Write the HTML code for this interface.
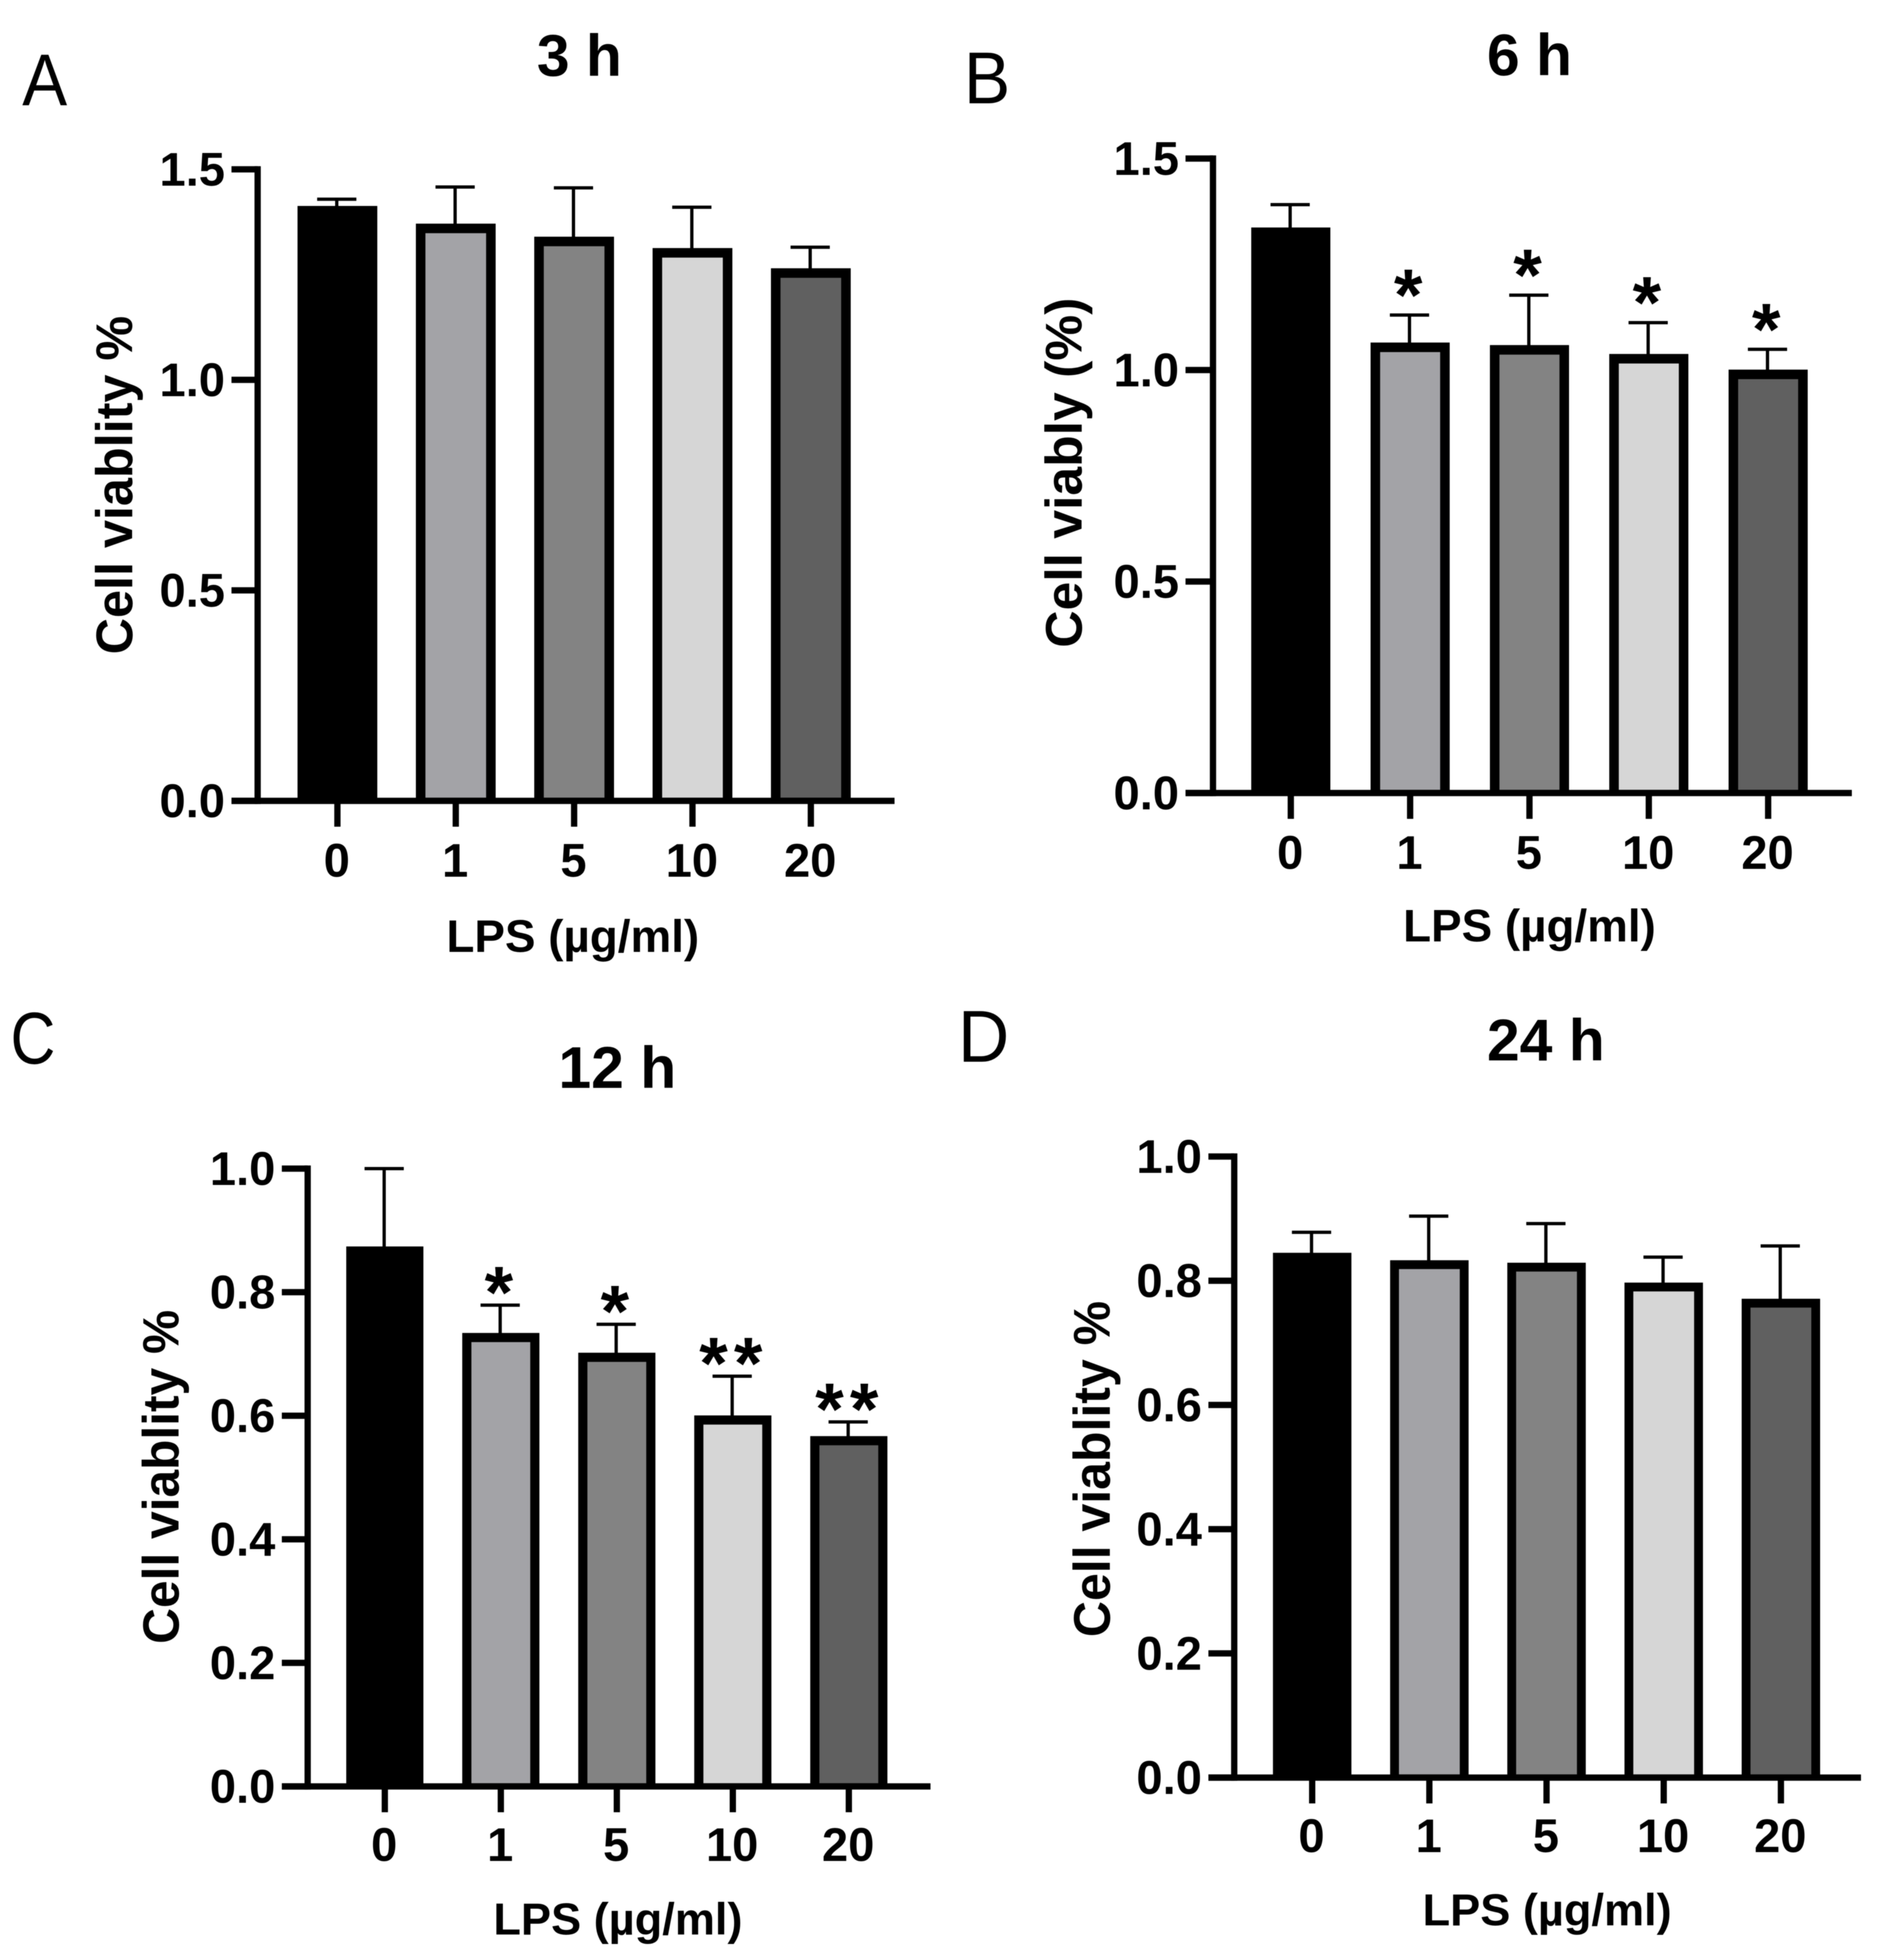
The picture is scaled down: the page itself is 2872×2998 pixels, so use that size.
<!DOCTYPE html>
<html>
<head>
<meta charset="utf-8">
<title>Cell viability after LPS treatment</title>
<style>
html,body{margin:0;padding:0;background:#fff;width:2872px;height:2998px;overflow:hidden}
svg{display:block;filter:blur(0.6px)}
text{font-family:"Liberation Sans",sans-serif;fill:#000}
.letter{font-size:112px;font-weight:400}
.ttl{font-size:90px;font-weight:700;text-anchor:middle}
.xt{font-size:70px;font-weight:700;text-anchor:middle}
.yt{font-size:77px;font-weight:700;text-anchor:middle}
</style>
</head>
<body>
<svg id="fig" xmlns="http://www.w3.org/2000/svg" width="2872" height="2998" viewBox="0 0 2872 2998">
  <rect x="0" y="0" width="2872" height="2998" fill="#fff"/>
  <g id="panel-a">
    <text class="letter" transform="translate(34,161) scale(0.92,1)">A</text>
    <text class="ttl" x="886" y="116">3 h</text>
    <text class="xt" x="876" y="1456">LPS (µg/ml)</text>
    <text class="yt" transform="translate(202,742) rotate(-90) scale(1,1.03)">Cell viablity %</text>
  </g>
  <g id="panel-b">
    <text class="letter" transform="translate(1474,158) scale(0.95,1)">B</text>
    <text class="ttl" x="2339" y="115">6 h</text>
    <text class="xt" x="2339" y="1440">LPS (µg/ml)</text>
    <text class="yt" transform="translate(1654,723) rotate(-90)" style="font-size:79px">Cell viably (%)</text>
  </g>
  <g id="panel-c">
    <text class="letter" transform="translate(16,1627) scale(0.85,1)">C</text>
    <text class="ttl" x="944" y="1664">12 h</text>
    <text class="xt" x="945" y="2959" style="font-size:69px">LPS (µg/ml)</text>
    <text class="yt" transform="translate(273,2259) rotate(-90) scale(1,1.03)" style="font-size:76px">Cell viablity %</text>
  </g>
  <g id="panel-d">
    <text class="letter" transform="translate(1465,1624) scale(0.97,1)">D</text>
    <text class="ttl" x="2364" y="1622">24 h</text>
    <text class="xt" x="2366" y="2945" style="font-size:69px">LPS (µg/ml)</text>
    <text class="yt" transform="translate(1697,2247) rotate(-90) scale(1,1.03)" style="font-size:76.5px">Cell viablity %</text>
  </g>
</svg>
<script>
// ---- data ----
const categories = ['0', '1', '5', '10', '20'];
const barColors = ['#000000', '#a3a3a7', '#838383', '#d6d6d6', '#606060'];

const yTicksA = [0, 0.5, 1.0, 1.5];
const valuesA = [1.413, 1.371, 1.340, 1.313, 1.265];
const errorTopsA = [1.429, 1.458, 1.456, 1.410, 1.315];
const starsA = ['', '', '', '', ''];

const yTicksB = [0, 0.5, 1.0, 1.5];
const valuesB = [1.337, 1.065, 1.059, 1.038, 1.001];
const errorTopsB = [1.391, 1.130, 1.177, 1.112, 1.049];
const starsB = ['', '*', '*', '*', '*'];

const yTicksC = [0, 0.2, 0.4, 0.6, 0.8, 1.0];
const valuesC = [0.874, 0.734, 0.702, 0.6005, 0.567];
const errorTopsC = [1.000, 0.779, 0.748, 0.664, 0.590];
const starsC = ['', '*', '*', '**', '**'];

const yTicksD = [0, 0.2, 0.4, 0.6, 0.8, 1.0];
const valuesD = [0.845, 0.833, 0.829, 0.797, 0.771];
const errorTopsD = [0.878, 0.904, 0.892, 0.838, 0.856];
const starsD = ['', '', '', '', ''];

const SVGNS = 'http://www.w3.org/2000/svg';

function make(tag, parent, attrs) {
  const node = document.createElementNS(SVGNS, tag);
  for (const k in attrs) node.setAttribute(k, attrs[k]);
  parent.appendChild(node);
  return node;
}

function drawPanel(groupId, key, frame, yTicks, values, errorTops, stars) {
  const root = document.getElementById(groupId);
  const yMax = yTicks[yTicks.length - 1];
  const yScale = v => frame.y0 - (v / yMax) * (frame.y0 - frame.yTop);
  const xScale = i => frame.x0 + i * frame.step;
  const AX = 9.6, ERR = 5, BORDER = frame.border;

  categories.forEach((cat, i) => {
    const cx = xScale(i);
    const top = yScale(values[i]);
    const errTop = yScale(errorTops[i]);

    const stem = make('rect', root, { x: cx - ERR / 2 - 1, y: errTop, width: ERR, height: top - errTop + 1, fill: '#000' });
    
    

    const cap = make('rect', root, { x: cx - 30 - 1, y: errTop - ERR / 2, width: 60, height: ERR, fill: '#000' });
    
    

    const bar = make('rect', root, { x: cx - frame.barW / 2, y: top, width: frame.barW, height: frame.y0 - top, fill: '#000' });
    
    

    const inner = make('rect', root, {
      x: cx - frame.barW / 2 + BORDER,
      y: top + BORDER,
      width: frame.barW - 2 * BORDER,
      height: frame.y0 - AX / 2 - top - BORDER,
      fill: barColors[i]
    });
    
    

    const tick = make('rect', root, { x: cx - AX / 2, y: frame.y0, width: AX, height: 39.5, fill: '#000' });
    
    

    const label = make('text', root, { x: cx - 1, y: frame.y0 + frame.xLabelDy, 'text-anchor': 'middle', 'font-size': 72, 'font-weight': 700 });
    label.textContent = cat;
    
    

    const marks = stars[i].length;
    for (let s = 0; s < marks; s++) {
      const sx = cx - 3 + (s - (marks - 1) / 2) * 53;
      const star = make('text', root, { x: sx, y: errTop - frame.starLift + 53, 'text-anchor': 'middle', 'font-size': 112, 'font-weight': 700 });
      star.textContent = stars[i][s];
      
      
    }
  });

  const yAxis = make('rect', root, { x: frame.xAxis - AX / 2, y: frame.yTop - AX / 2, width: AX, height: frame.y0 - frame.yTop + AX, fill: '#000' });
  
  

  const xAxis = make('rect', root, { x: frame.tickLeft, y: frame.y0 - AX / 2, width: frame.xRight - frame.tickLeft, height: AX, fill: '#000' });
  
  

  yTicks.forEach(v => {
    const y = yScale(v);
    const tick = make('rect', root, { x: frame.tickLeft, y: y - AX / 2, width: frame.xAxis - frame.tickLeft, height: AX, fill: '#000' });
    
    

    const label = make('text', root, { x: frame.tickLeft - 10, y: y + 25, 'text-anchor': 'end', 'font-size': 72, 'font-weight': 700 });
    label.textContent = v.toFixed(1);
    
    
  });
}

drawPanel('panel-a', 'a', { x0: 516, step: 181, barW: 122, border: 14.6, xAxis: 394, tickLeft: 354, xRight: 1368, y0: 1225, yTop: 259, xLabelDy: 116, starLift: 43 },
  yTicksA, valuesA, errorTopsA, starsA);
drawPanel('panel-b', 'b', { x0: 1974, step: 182.5, barW: 121, border: 14.6, xAxis: 1855, tickLeft: 1813, xRight: 2832, y0: 1213, yTop: 242.5, xLabelDy: 116, starLift: 45 },
  yTicksB, valuesB, errorTopsB, starsB);
drawPanel('panel-c', 'c', { x0: 588.5, step: 177.4, barW: 118, border: 14, xAxis: 470.5, tickLeft: 431, xRight: 1423, y0: 2732.5, yTop: 1787.5, xLabelDy: 114, starLift: 34 },
  yTicksC, valuesC, errorTopsC, starsC);
drawPanel('panel-d', 'd', { x0: 2006.7, step: 179.2, barW: 120, border: 13.5, xAxis: 1887.5, tickLeft: 1848, xRight: 2846, y0: 2719, yTop: 1769, xLabelDy: 114, starLift: 43 },
  yTicksD, valuesD, errorTopsD, starsD);
</script>
</body>
</html>
